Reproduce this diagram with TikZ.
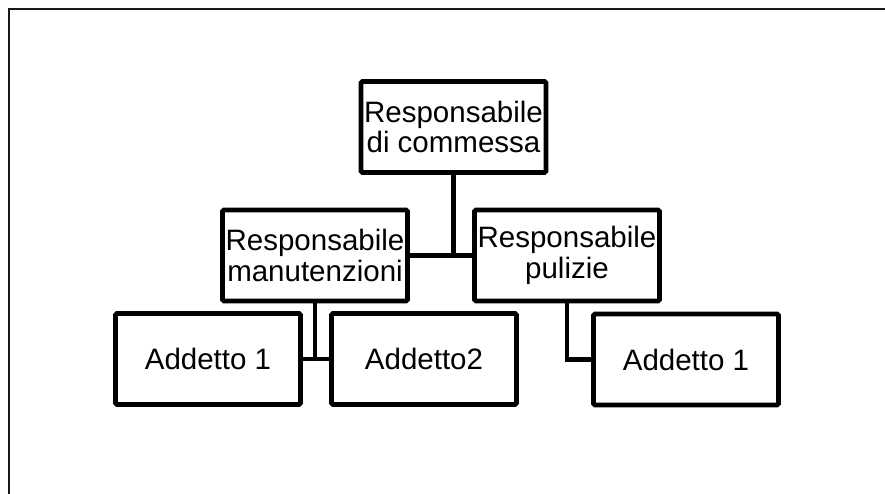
\documentclass[tikz,border=0pt]{standalone}
\usepackage{fontspec}
\setmainfont{Liberation Sans}
\begin{document}
\begin{tikzpicture}[x=1pt,y=1pt,
  orgbox/.style={draw=black, line width=4.8pt, rounded corners=1.5pt, fill=white,
    minimum width=185pt, minimum height=91pt, inner sep=0pt,
    align=center, font=\fontsize{29.5}{30.5}\selectfont},
  link/.style={draw=black, line width=4.8pt}]
  \useasboundingbox (0,0) rectangle (885,493);
  % outer frame (only its top and left sides fall inside the page)
  \draw[line width=2pt, black!90] (9,-5) -- (9,484) -- (890,484);

  \node[orgbox] (top) at (453.5,366) {Responsabile\\di commessa};
  \node[orgbox] (man) at (315,237.5) {Responsabile\\manutenzioni};
  \node[orgbox] (pul) at (567,237.5) {Responsabile\\pulizie};
  \node[orgbox] (a1) at (208,134) {Addetto 1};
  \node[orgbox] (a2) at (424,134) {Addetto2};
  \node[orgbox] (a3) at (686,133.5) {Addetto 1};

  \draw[link] (man.east) -- (pul.west);
  \draw[link] (top.south) -- (top.south |- man.east);
  \draw[link] (man.south) -- (man.south |- a1.east);
  \draw[link] (a1.east) -- (a2.west);
  \draw[link] (pul.south) |- (a3.west);
\end{tikzpicture}
\end{document}
